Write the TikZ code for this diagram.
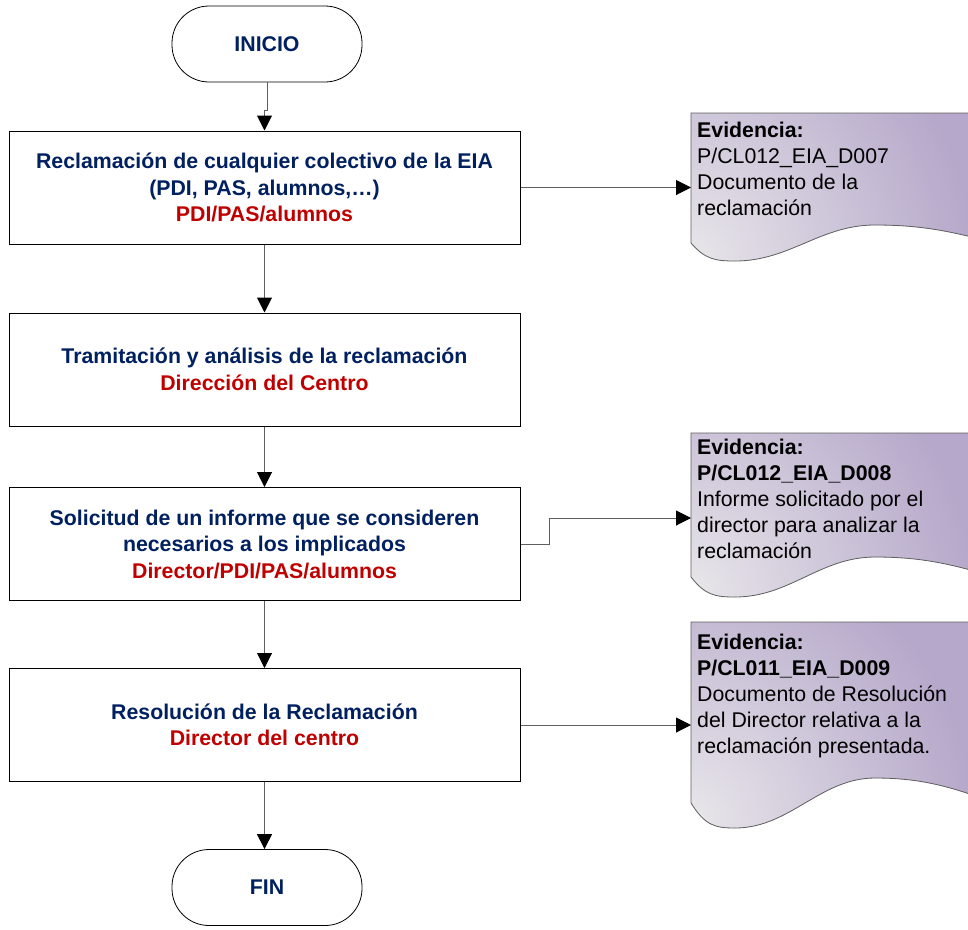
\documentclass[tikz,border=0pt]{standalone}
\usepackage{fontspec}
\setmainfont{Liberation Sans}
\usetikzlibrary{arrows.meta}
\definecolor{navy}{RGB}{0,32,96}
\definecolor{redtxt}{RGB}{192,0,0}
\definecolor{docpurple}{RGB}{182,168,202}
\definecolor{doclight}{RGB}{232,230,234}
\definecolor{linegray}{RGB}{95,95,95}
\newcommand{\docoutline}[3]{(691,#1) -- (1010,#1) -- (1010,{#2+0.2*#3})
    .. controls (960,{#2-0.5*#3}) and (930,{#2-#3}) .. (875,{#2-#3})
    .. controls (820,{#2-#3}) and (790,{#2+#3}) .. (735,{#2+#3})
    .. controls (715,{#2+#3}) and (705,{#2+0.9*#3}) .. (691,#2) -- cycle}
\newcommand{\docpath}[3]{% top, left-bottom, amplitude
  \begin{scope}
    \clip \docoutline{#1}{#2}{#3};
    \fill[docpurple] (680,{#1-10}) rectangle (1020,{#2+40});
    \shade[inner color=doclight, outer color=docpurple] (691,{#2+15}) circle (280);
  \end{scope}
  \draw[docborder] \docoutline{#1}{#2}{#3};}
\begin{document}
\begin{tikzpicture}[x=1pt,y=-1pt,
  terminal/.style={draw=black, line width=0.8pt, rounded corners=37pt, minimum width=190pt, minimum height=76pt, inner sep=0pt, font=\fontsize{21.3}{26}\selectfont\bfseries, text=navy},
  process/.style={draw=black, line width=1pt, minimum width=511pt, minimum height=113pt, align=center, inner sep=0pt, font=\fontsize{21.3}{26.5}\selectfont\bfseries, text=navy},
  doctext/.style={anchor=north west, align=left, inner sep=0pt, font=\fontsize{21.3}{26}\selectfont, text=black},
  conn/.style={draw=linegray, line width=1pt, -{Triangle[length=15pt,width=15pt,color=black]}},
  docborder/.style={draw=linegray, line width=0.8pt}
]
\useasboundingbox[fill=white] (0,0) rectangle (968,929);

% documents
\docpath{113}{243}{18}
\docpath{433}{577}{20}
\docpath{622}{803}{25}
\node[doctext] (d1) at (697,122) {\textbf{Evidencia:}\\P/CL012\_EIA\_D007\\Documento de la\\reclamación};
\node[doctext] (d2) at (697,439) {\textbf{Evidencia:}\\\textbf{P/CL012\_EIA\_D008}\\Informe solicitado por el\\director para analizar la\\reclamación};
\node[doctext] (d3) at (697,634) {\textbf{Evidencia:}\\\textbf{P/CL011\_EIA\_D009}\\Documento de Resolución\\del Director relativa a la\\reclamación presentada.};
\coordinate (d1in) at (691,187.5);
\coordinate (d2in) at (691,518);
\coordinate (d3in) at (691,725);

% flow
\node[terminal] (inicio) at (267,44) {INICIO};
\node[process] (b1) at (264.5,187.5) {Reclamación de cualquier colectivo de la EIA\\(PDI, PAS, alumnos,…)\\\textcolor{redtxt}{PDI/PAS/alumnos}};
\node[process] (b2) at (264.5,369.5) {Tramitación y análisis de la reclamación\\\textcolor{redtxt}{Dirección del Centro}};
\node[process] (b3) at (264.5,544) {Solicitud de un informe que se consideren\\necesarios a los implicados\\\textcolor{redtxt}{Director/PDI/PAS/alumnos}};
\node[process] (b4) at (264.5,725) {Resolución de la Reclamación\\\textcolor{redtxt}{Director del centro}};
\node[terminal] (fin) at (267,887.5) {FIN};

\draw[conn] (inicio.south) -- ++(0,28) -| (b1.north);
\draw[conn] (b1) -- (b2);
\draw[conn] (b2) -- (b3);
\draw[conn] (b3) -- (b4);
\draw[conn] (b4.south) -- (b4.south |- fin.north);
\draw[conn] (b1.east) -- (d1in);
\draw[conn] (b3.east) -- ++(29,0) |- (d2in);
\draw[conn] (b4.east) -- (d3in);
\end{tikzpicture}
\end{document}
